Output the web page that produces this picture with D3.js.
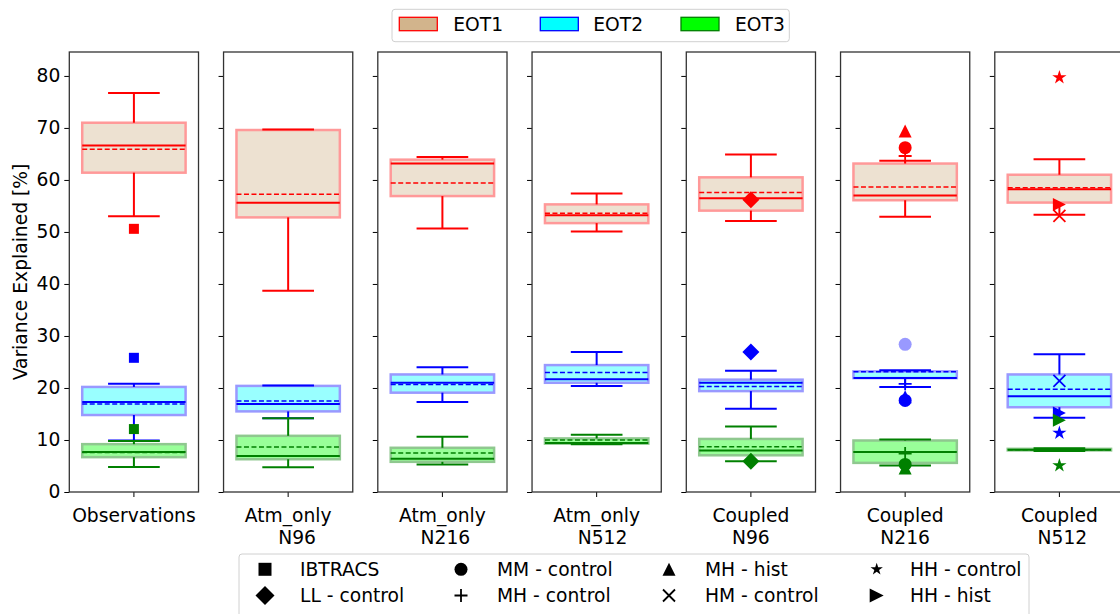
<!DOCTYPE html>
<html>
<head>
<meta charset="utf-8">
<script src="https://cdn.jsdelivr.net/npm/d3@7"></script>
<style>
  html, body { margin: 0; padding: 0; background: #fff; }
  svg { display: block; font-family: "DejaVu Sans", sans-serif; }
</style>
</head>
<body>
<svg id="chart" width="1120" height="614"></svg>
<script>
// Experiments (one panel each)
const categories = ["Observations", "Atm_only N96", "Atm_only N216", "Atm_only N512",
                    "Coupled N96", "Coupled N216", "Coupled N512"];
const tickLabels = [["Observations"], ["Atm_only", "   N96"], ["Atm_only", " N216"], ["Atm_only", "  N512"],
                    ["Coupled", "N96"], ["Coupled", "N216"], ["Coupled", " N512"]];
const eotNames = ["EOT1", "EOT2", "EOT3"];
const yTicks = [0, 10, 20, 30, 40, 50, 60, 70, 80];

// Box statistics per panel: lower whisker, Q1, median, mean, Q3, upper whisker
const eot1Low    = [53.0, 38.7, 50.65, 50.1, 52.1, 52.9, 53.3];
const eot1Q1     = [61.4, 52.8, 56.9, 51.7, 54.1, 56.1, 55.65];
const eot1Median = [66.6, 55.6, 63.15, 53.2, 56.5, 57.0, 58.2];
const eot1Mean   = [65.9, 57.25, 59.4, 53.6, 57.6, 58.65, 58.5];
const eot1Q3     = [71.0, 69.6, 63.9, 55.3, 60.5, 63.15, 61.0];
const eot1High   = [76.7, 69.7, 64.4, 57.4, 64.9, 63.7, 64.0];

const eot2Low    = [9.9, 14.2, 17.3, 20.4, 16.0, 20.2, 14.3];
const eot2Q1     = [14.8, 15.5, 19.1, 21.0, 19.4, 21.9, 16.3];
const eot2Median = [17.3, 16.9, 21.0, 21.7, 21.0, 21.9, 18.4];
const eot2Mean   = [16.9, 17.5, 20.65, 23.0, 20.3, 23.1, 19.75];
const eot2Q3     = [20.2, 20.4, 22.6, 24.4, 21.6, 23.2, 22.6];
const eot2High   = [20.8, 20.5, 24.0, 26.9, 23.3, 23.4, 26.5];

const eot3Low    = [4.8, 4.75, 5.3, 9.2, 5.9, 5.1, 7.9];
const eot3Q1     = [6.7, 6.3, 5.8, 9.3, 7.06, 5.6, 8.0];
const eot3Median = [7.7, 6.9, 6.4, 9.4, 8.0, 7.7, 8.1];
const eot3Mean   = [7.6, 8.65, 7.5, 10.0, 8.7, 7.7, 8.1];
const eot3Q3     = [9.2, 10.8, 8.5, 10.3, 10.2, 9.9, 8.3];
const eot3High   = [9.8, 14.2, 10.6, 11.0, 12.6, 10.1, 8.4];

// Outliers beyond the whiskers: [panel, eot index, value]
const fliers = [["Coupled N216", 1, 28.4]];

// Individual runs: panel and [EOT1, EOT2, EOT3]
const runNames = ["IBTRACS", "LL - control", "MM - control", "MH - control",
                  "MH - hist", "HM - control", "HH - control", "HH - hist"];
const runPanels = ["Observations", "Coupled N96", "Coupled N216", "Coupled N216",
                   "Coupled N216", "Coupled N512", "Coupled N512", "Coupled N512"];
const ibtracs   = [50.6, 25.8, 12.1];
const llControl = [56.2, 26.9, 5.9];
const mmControl = [66.2, 17.6, 5.3];
const mhControl = [64.6, 20.8, 7.4];
const mhHist    = [69.4, 18.3, 4.6];
const hmControl = [53.1, 21.35, null];
const hhControl = [79.7, 11.35, 5.1];
const hhHist    = [55.3, 15.2, 13.8];
const runValues = [ibtracs, llControl, mmControl, mhControl, mhHist, hmControl, hhControl, hhHist];

// ---- styling ----
const lineColors = ["#ff0000", "#0000ff", "#008000"];
const fillColors = ["#d2b48c", "#00ffff", "#00ff00"];
const edgeColors = ["#ff9999", "#9999ff", "#8fc88f"];
const runShapes  = ["square", "diamond", "circle", "plus", "triUp", "cross", "star", "triRight"];
const runSizes   = [10, 17, 13, 13, 13, 12, 15, 13];
const legendSizes = [13, 19, 13, 13, 13, 12, 13, 14];

const stats = [
  [eot1Low, eot1Q1, eot1Median, eot1Mean, eot1Q3, eot1High],
  [eot2Low, eot2Q1, eot2Median, eot2Mean, eot2Q3, eot2High],
  [eot3Low, eot3Q1, eot3Median, eot3Mean, eot3Q3, eot3High]
];

const svg = d3.select("#chart");
const FONT = 18.7;
const plotTop = 52, plotBottom = 492;

const x = d3.scaleBand().domain(categories).range([69.3, 1124]).paddingInner(0.1623).paddingOuter(0);
const y = d3.scaleLinear().domain([0, 84.6]).range([plotBottom, plotTop]);
const bw = x.bandwidth();

function markerPath(shape, s) {
  const h = s / 2;
  switch (shape) {
    case "square": return `M${-h},${-h}H${h}V${h}H${-h}Z`;
    case "circle": return d3.symbol(d3.symbolCircle, Math.PI * h * h)();
    case "diamond": return `M0,${-h}L${h},0L0,${h}L${-h},0Z`;
    case "triUp": return `M0,${-h}L${h},${h}L${-h},${h}Z`;
    case "triRight": return `M${h},0L${-h},${-h}L${-h},${h}Z`;
    case "plus": return `M${-h},0H${h}M0,${-h}V${h}`;
    case "cross": return `M${-h},${-h}L${h},${h}M${-h},${h}L${h},${-h}`;
    case "star": {
      const pts = [];
      for (let i = 0; i < 10; i++) {
        const r = i % 2 === 0 ? h : h * 0.381966;
        const a = -Math.PI / 2 + i * Math.PI / 5;
        pts.push([r * Math.cos(a), r * Math.sin(a)]);
      }
      return "M" + pts.map(p => p.join(",")).join("L") + "Z";
    }
  }
}
const strokedShape = s => s === "plus" || s === "cross";

function drawMarker(g, shape, size, cx, cy, color) {
  const p = g.append("path")
    .attr("d", markerPath(shape, size))
    .attr("transform", `translate(${cx},${cy})`);
  if (strokedShape(shape)) {
    p.attr("fill", "none").attr("stroke", color).attr("stroke-width", 1.8);
  } else {
    p.attr("fill", color).attr("stroke", "none");
  }
}

// ---- axes for every panel ----
categories.forEach((c, i) => {
  const x0 = x(c);
  const ax = svg.append("g").attr("transform", `translate(${x0},0)`)
    .call(d3.axisLeft(y).tickValues(yTicks).tickSize(5).tickPadding(4)
      .tickFormat(i === 0 ? d3.format("d") : () => ""));
  ax.select(".domain").remove();
  ax.selectAll(".tick line").attr("stroke", "#000").attr("stroke-width", 1);
  ax.selectAll(".tick text").attr("font-size", FONT).attr("font-family", "DejaVu Sans").attr("fill", "#000");

  const cx = x0 + bw / 2;
  svg.append("line").attr("x1", cx).attr("x2", cx).attr("y1", plotBottom).attr("y2", plotBottom + 5)
    .attr("stroke", "#000").attr("stroke-width", 1);

  const t = svg.append("text").attr("x", cx).attr("y", 521.5)
    .attr("text-anchor", "middle").attr("font-size", FONT).attr("fill", "#000")
    .style("white-space", "pre");
  tickLabels[i].forEach((line, j) => {
    t.append("tspan").attr("x", cx).attr("dy", j === 0 ? 0 : 22.2).text(line);
  });
});

// ---- boxes ----
const plot = svg.append("g");
stats.forEach((s, k) => {
  const [lo, q1, med, mean, q3, hi] = s;
  const col = lineColors[k];
  categories.forEach((c, i) => {
    const cx = x(c) + bw / 2;
    const boxW = bw * 0.8, capW = bw * 0.4;
    const g = plot.append("g");
    g.append("rect")
      .attr("x", cx - boxW / 2).attr("width", boxW)
      .attr("y", y(q3[i])).attr("height", Math.max(0, y(q1[i]) - y(q3[i])))
      .attr("fill", fillColors[k]).attr("fill-opacity", 0.4)
      .attr("stroke", edgeColors[k]).attr("stroke-width", 2.5);
    // whiskers
    g.append("line").attr("x1", cx).attr("x2", cx).attr("y1", y(q3[i])).attr("y2", y(hi[i]))
      .attr("stroke", col).attr("stroke-width", 2);
    g.append("line").attr("x1", cx).attr("x2", cx).attr("y1", y(q1[i])).attr("y2", y(lo[i]))
      .attr("stroke", col).attr("stroke-width", 2);
    // caps
    [hi[i], lo[i]].forEach(v => {
      g.append("line").attr("x1", cx - capW / 2).attr("x2", cx + capW / 2)
        .attr("y1", y(v)).attr("y2", y(v)).attr("stroke", col).attr("stroke-width", 2);
    });
    // median
    g.append("line").attr("x1", cx - boxW / 2).attr("x2", cx + boxW / 2)
      .attr("y1", y(med[i])).attr("y2", y(med[i])).attr("stroke", col).attr("stroke-width", 2);
    // mean
    g.append("line").attr("x1", cx - boxW / 2).attr("x2", cx + boxW / 2)
      .attr("y1", y(mean[i])).attr("y2", y(mean[i])).attr("stroke", col)
      .attr("stroke-width", 1.5).attr("stroke-dasharray", "5,2.5");
  });
});

// ---- outliers ----
fliers.forEach(([c, k, v]) => {
  plot.append("circle").attr("cx", x(c) + bw / 2).attr("cy", y(v)).attr("r", 6.5)
    .attr("fill", lineColors[k]).attr("fill-opacity", 0.4);
});

// ---- individual runs ----
runValues.forEach((vals, r) => {
  const cx = x(runPanels[r]) + bw / 2;
  vals.forEach((v, k) => {
    if (v === null) return;
    drawMarker(plot, runShapes[r], runSizes[r], cx, y(v), lineColors[k]);
  });
});

// ---- panel frames ----
categories.forEach(c => {
  svg.append("rect").attr("x", x(c)).attr("y", plotTop).attr("width", bw).attr("height", plotBottom - plotTop)
    .attr("fill", "none").attr("stroke", "#333").attr("stroke-width", 1.3);
});

// ---- y label ----
svg.append("text").attr("transform", `translate(27,${(plotTop + plotBottom) / 2}) rotate(-90)`)
  .attr("text-anchor", "middle").attr("font-size", FONT).attr("fill", "#000")
  .text("Variance Explained [%]");

// ---- EOT legend ----
const leg1 = svg.append("g");
leg1.append("rect").attr("x", 392).attr("y", 9.3).attr("width", 397.3).attr("height", 32.4)
  .attr("rx", 3).attr("fill", "#fff").attr("fill-opacity", 0.8)
  .attr("stroke", "#d0d0d0").attr("stroke-width", 1);
const patchX = [399.3, 540.3, 681];
const labelX = [453.3, 593.3, 735];
eotNames.forEach((n, k) => {
  leg1.append("rect").attr("x", patchX[k]).attr("y", 17.3).attr("width", 38).attr("height", 13.4)
    .attr("fill", fillColors[k]).attr("stroke", lineColors[k]).attr("stroke-width", 1.3);
  leg1.append("text").attr("x", labelX[k]).attr("y", 30.8).attr("font-size", FONT).attr("fill", "#000").text(n);
});

// ---- run legend ----
const leg2 = svg.append("g");
leg2.append("rect").attr("x", 239).attr("y", 554).attr("width", 790).attr("height", 66)
  .attr("rx", 3).attr("fill", "#fff").attr("fill-opacity", 0.8)
  .attr("stroke", "#d0d0d0").attr("stroke-width", 1);
const colMarkX = [265, 461, 669, 876.7];
const colTextX = [300, 497, 705, 910];
const rowY = [569.3, 595.5];
runNames.forEach((n, r) => {
  const col = Math.floor(r / 2), row = r % 2;
  drawMarker(leg2, runShapes[r], legendSizes[r], colMarkX[col], rowY[row], "#000");
  leg2.append("text").attr("x", colTextX[col]).attr("y", rowY[row] + 6.7)
    .attr("font-size", FONT).attr("fill", "#000").text(n);
});
</script>
</body>
</html>
